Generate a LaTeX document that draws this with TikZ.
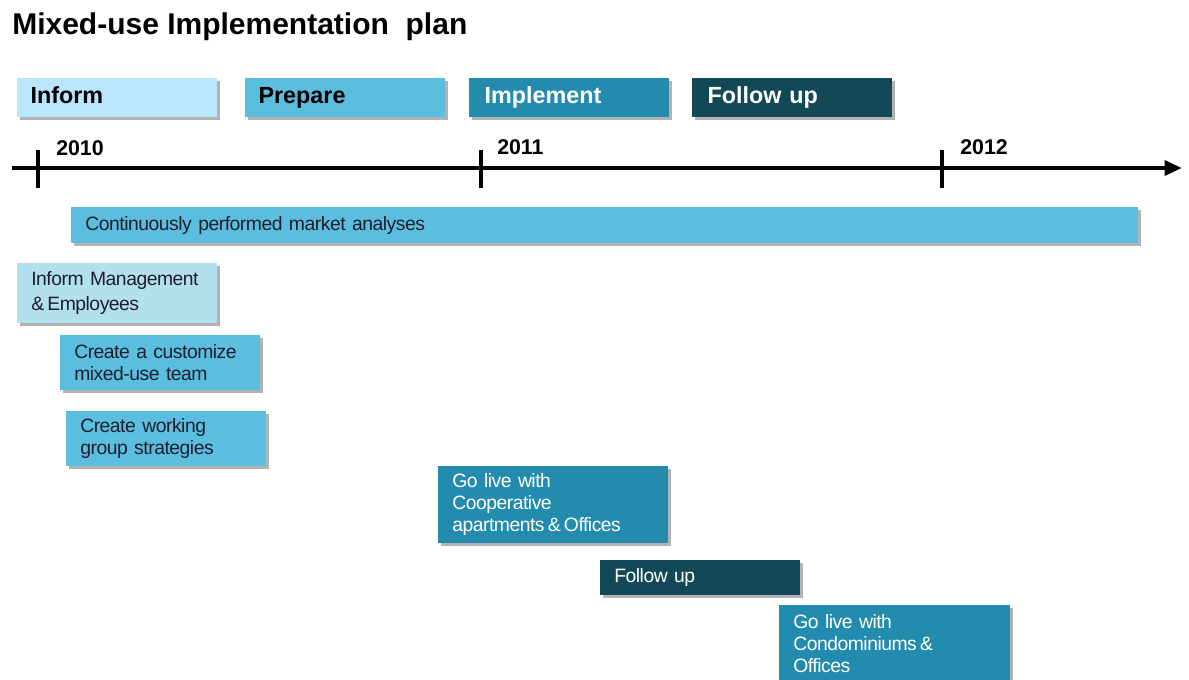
\documentclass[tikz,border=0pt]{standalone}
\usepackage{fontspec}
\setmainfont{Liberation Sans}
\newfontfamily\taskfont{Liberation Sans}[WordSpace=0.6,LetterSpace=-2.5]
\usetikzlibrary{shadows,arrows.meta}
\definecolor{cInform}{HTML}{BAE6FB}
\definecolor{cInformTask}{HTML}{B3E0EE}
\definecolor{cPrepare}{HTML}{5BBEDF}
\definecolor{cImpl}{HTML}{238CAE}
\definecolor{cFollow}{HTML}{134857}
\definecolor{cDark}{HTML}{1E1E2E}
\tikzset{
  shad/.style={general shadow={fill=black!30, shadow xshift=2.3pt, shadow yshift=-2.3pt}},
  phase/.style={shad, anchor=north west, minimum width=150pt, minimum height=29.25pt,
    text height=12.5pt, text depth=3.5pt, inner ysep=0pt,
    font=\fontsize{17.5pt}{20pt}\selectfont\bfseries},
  phaseL/.style={phase, text width=130pt, inner xsep=10pt, align=left},
  phaseR/.style={phase, text width=127pt, inner xsep=11.5pt, align=left},
  task/.style={shad, anchor=north west, inner xsep=10.5pt, inner ysep=0pt, align=left,
    font=\fontsize{14.5pt}{16.5pt}\taskfont},
  year/.style={anchor=west, inner sep=0pt, font=\fontsize{16pt}{18pt}\selectfont\bfseries},
  axis/.style={line width=3pt},
  tick/.style={line width=3pt},
}
\begin{document}
\begin{tikzpicture}[x=0.75pt,y=-0.75pt]
\useasboundingbox (0,0) rectangle (1189,679);
% title
\node[anchor=base west, inner sep=0pt, font=\fontsize{22.5pt}{26pt}\selectfont\bfseries] (title) at (12,34) {Mixed-use Implementation\ \ plan};
% phases
\node[phaseL, fill=cInform, text=black] (pInform) at (17,78) {Inform};
\node[phaseL, fill=cPrepare, text=black] (pPrepare) at (245,78) {Prepare};
\node[phaseR, fill=cImpl, text=white] (pImpl) at (469,78) {Implement};
\node[phaseR, fill=cFollow, text=white] (pFollow) at (692,78) {Follow up};
% timeline
\coordinate (axS) at (12,168);
\coordinate (axE) at (1182,168);
\draw[axis, -{Triangle[length=13pt,width=11pt]}] (axS) -- (axE);
\coordinate (t1a) at (38,150); \coordinate (t1b) at (38,188);
\coordinate (t2a) at (481,150); \coordinate (t2b) at (481,188);
\coordinate (t3a) at (942,150); \coordinate (t3b) at (942,188);
\draw[tick] (t1a) -- (t1b);
\draw[tick] (t2a) -- (t2b);
\draw[tick] (t3a) -- (t3b);
\node[year] (y2010) at (56,148) {2010};
\node[year] (y2011) at (497,147) {2011};
\node[year] (y2012) at (960,147) {2012};
% tasks
\node[task, fill=cPrepare, text=cDark, minimum width=800.25pt, minimum height=27pt, text width=779pt] (market) at (71,207) {Continuously performed market analyses};
\node[task, fill=cInformTask, text=cDark, minimum width=150pt, minimum height=45pt, text width=129pt, font=\fontsize{14.5pt}{18.5pt}\taskfont] (informMgmt) at (17,263) {Inform Management\\\&\,Employees};
\node[task, fill=cPrepare, text=cDark, minimum width=150pt, minimum height=41.25pt, text width=129pt] (team) at (60,335) {Create a customize\\mixed-use team};
\node[task, fill=cPrepare, text=cDark, minimum width=150pt, minimum height=41.25pt, text width=129pt] (working) at (66,411) {Create working\\group strategies};
\node[task, fill=cImpl, text=white, minimum width=172.5pt, minimum height=57.75pt, text width=151.5pt] (coop) at (438,466) {Go live with\\Cooperative\\apartments\,\&\,Offices};
\node[task, fill=cFollow, text=white, minimum width=150pt, minimum height=26.25pt, text width=129pt] (follow) at (600,560) {Follow up};
\node[task, fill=cImpl, text=white, minimum width=173.25pt, minimum height=57.75pt, text width=152.25pt] (condo) at (779,605) {Go live with\\Condominiums\,\&\\Offices};
\end{tikzpicture}
\end{document}
